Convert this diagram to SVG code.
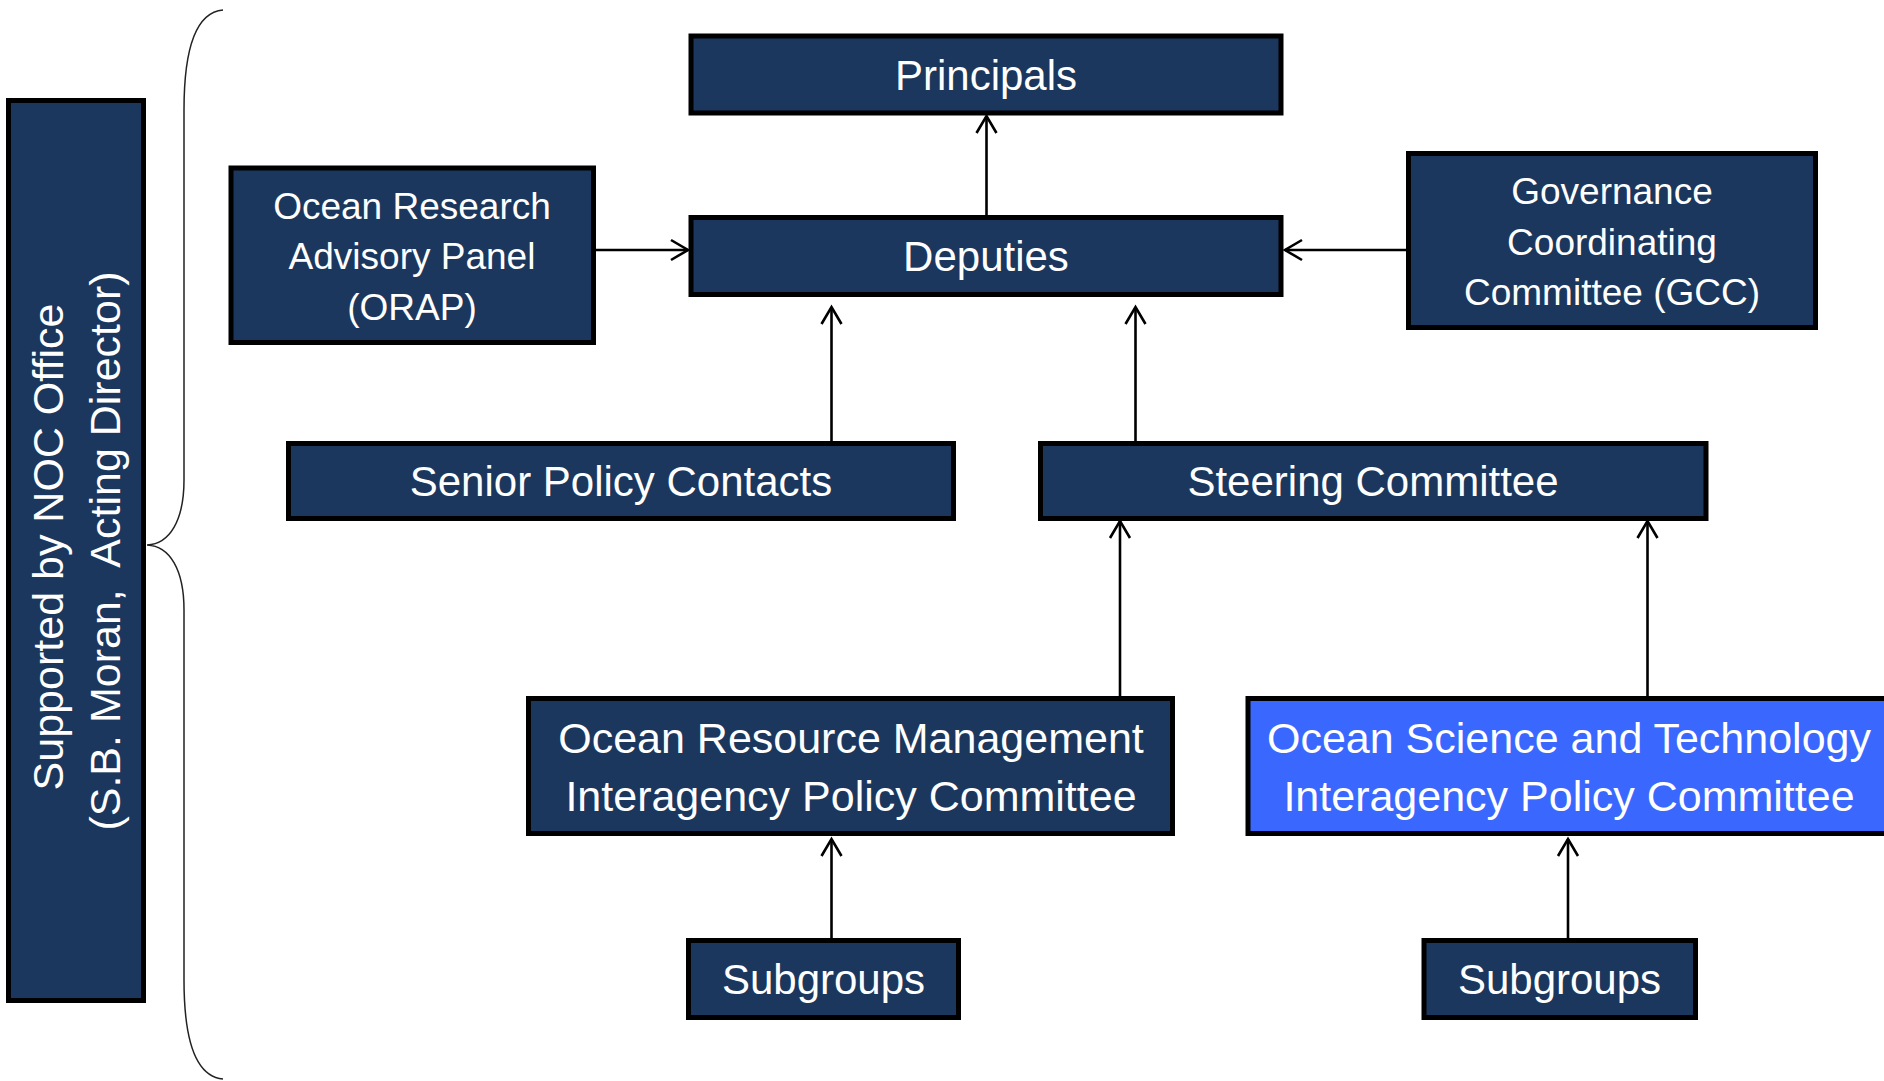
<svg xmlns="http://www.w3.org/2000/svg" width="1884" height="1081" viewBox="0 0 1884 1081">
<style>
.box{fill:#1B375E;stroke:#000;stroke-width:5}
.hl{fill:#3A68FF;stroke:#000;stroke-width:5}
.t{font-family:"Liberation Sans",Arial,sans-serif;fill:#fff;text-anchor:middle}
.t42{font-size:42px}
.t43{font-size:43px}
.t37{font-size:37px}
.c{stroke:#000;stroke-width:2.6;fill:none}
</style>
<defs>
<marker id="arr" markerUnits="userSpaceOnUse" markerWidth="24" markerHeight="24" viewBox="-20 -12 22 24" refX="0" refY="0" orient="auto" overflow="visible">
<path d="M-17,-10 L0,0 L-17,10" fill="none" stroke="#000" stroke-width="2.6"/>
</marker>
</defs>
<rect width="1884" height="1081" fill="#fff"/>
<g id="brace">
<path d="M223,10 C200,12 184,40 184,110 L184,480 C184,520 170,544 147,545 C170,546 184,570 184,610 L184,980 C184,1050 200,1077 223,1079" fill="none" stroke="#222" stroke-width="1.5"/>
</g>
<g id="noc-office">
<rect class="box" x="8.5" y="100.5" width="135" height="900"/>
<text class="t t43" transform="translate(63,547) rotate(-90)">Supported by NOC Office</text>
<text class="t t43" transform="translate(120,551) rotate(-90)" xml:space="preserve">(S.B. Moran,  Acting Director)</text>
</g>
<g id="principals">
<rect class="box" x="691" y="36" width="590" height="77"/>
<text class="t t42" x="986" y="89.5">Principals</text>
</g>
<g id="deputies">
<rect class="box" x="691" y="217.5" width="590" height="77"/>
<text class="t t42" x="986" y="271">Deputies</text>
</g>
<g id="orap">
<rect class="box" x="231" y="168" width="362.5" height="174.5"/>
<text class="t t37" x="412" y="218.5">Ocean Research</text>
<text class="t t37" x="412" y="269">Advisory Panel</text>
<text class="t t37" x="412" y="319.5">(ORAP)</text>
</g>
<g id="gcc">
<rect class="box" x="1408.5" y="153.5" width="407" height="174"/>
<text class="t t37" x="1612" y="204">Governance</text>
<text class="t t37" x="1612" y="254.5">Coordinating</text>
<text class="t t37" x="1612" y="305">Committee (GCC)</text>
</g>
<g id="senior-policy-contacts">
<rect class="box" x="288.5" y="443.5" width="665" height="75"/>
<text class="t t42" x="621" y="496">Senior Policy Contacts</text>
</g>
<g id="steering-committee">
<rect class="box" x="1040.5" y="443.5" width="665.5" height="75"/>
<text class="t t42" x="1373" y="496">Steering Committee</text>
</g>
<g id="orm-ipc">
<rect class="box" x="528.5" y="698.5" width="644" height="135"/>
<text class="t t43" x="851" y="752.5">Ocean Resource Management</text>
<text class="t t43" x="851" y="810.5">Interagency Policy Committee</text>
</g>
<g id="ost-ipc">
<rect class="hl" x="1248" y="698.5" width="700" height="135"/>
<text class="t t43" x="1569" y="752.5">Ocean Science and Technology</text>
<text class="t t43" x="1569" y="810.5">Interagency Policy Committee</text>
</g>
<g id="subgroups-left">
<rect class="box" x="688.5" y="940.5" width="270" height="77"/>
<text class="t t42" x="823.5" y="994">Subgroups</text>
</g>
<g id="subgroups-right">
<rect class="box" x="1424" y="940.5" width="271.5" height="77"/>
<text class="t t42" x="1559.5" y="994">Subgroups</text>
</g>
<g id="connectors">
<path class="c" d="M986.5,215 L986.5,116" marker-end="url(#arr)"/>
<path class="c" d="M596,250 L688,250" marker-end="url(#arr)"/>
<path class="c" d="M1406,250 L1285,250" marker-end="url(#arr)"/>
<path class="c" d="M831.5,441 L831.5,307" marker-end="url(#arr)"/>
<path class="c" d="M1135.5,441 L1135.5,307" marker-end="url(#arr)"/>
<path class="c" d="M1120,696 L1120,521" marker-end="url(#arr)"/>
<path class="c" d="M1647.5,696 L1647.5,521" marker-end="url(#arr)"/>
<path class="c" d="M831.5,938 L831.5,839" marker-end="url(#arr)"/>
<path class="c" d="M1568,938 L1568,839" marker-end="url(#arr)"/>
</g>
</svg>
